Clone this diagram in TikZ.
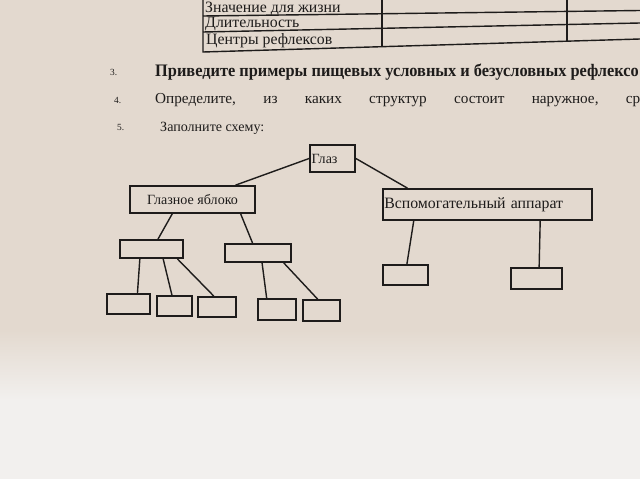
\documentclass[tikz,border=0pt]{standalone}
\usepackage{graphicx}
\usepackage{fontspec}
\setmainfont{Liberation Serif}
\usetikzlibrary{calc}
\definecolor{paper}{HTML}{E3D9CF}
\definecolor{paperlow}{HTML}{F2F0EE}
\definecolor{inkc}{HTML}{1E1C1B}
\tikzset{
  box/.style={draw=inkc, line width=1.5pt, rectangle, inner sep=0pt, text=inkc},
  link/.style={draw=inkc, line width=1.2pt},
  rowtext/.style={anchor=west, inner sep=0pt, text=inkc, font=\fontsize{13.5}{14}\selectfont},
  numtext/.style={anchor=west, inner sep=0pt, text=inkc, font=\fontsize{8}{9}\selectfont},
}

\begin{document}
\begin{tikzpicture}[x=0.03cm, y=-0.03cm]
        \useasboundingbox (0,0) rectangle (640,479);
        \fill[paper] (0,0) rectangle (640,330);
        \shade[top color=paper, bottom color=paperlow] (0,330) rectangle (640,400);
        \fill[paperlow] (0,400) rectangle (640,479);
        \clip (0,0) rectangle (640,479);

        \draw[link] (203,0) -- (203,52) -- (640,39); \draw[link] (203,16) -- (640,10.5); \draw[link] (203,32) -- (640,23);
        \draw[link] (382,0) -- (382,47); \draw[link] (567,0) -- (567,42);
        \node[rowtext] (life) at (205,8.5) {Значение для жизни};
        \node[rowtext] (dur) at (205,24.5) {Длительность};
        \node[rowtext] (cent) at (206,41) {Центры рефлексов};

        \node[numtext] (n3) at (110,72) {3.};
        \node[anchor=west, inner sep=0pt, text=inkc, font=\bfseries\fontsize{15}{16}\selectfont] (q3) at (155,72) {\scalebox{0.93}[1]{Приведите примеры пищевых условных и безусловных рефлексо}};
        \node[numtext] (n4) at (114,100) {4.};
        \node[anchor=west, inner sep=0pt, text=inkc, text width=14.55cm, font=\fontsize{13}{14}\selectfont] (q4) at (155,100) {Определите,\hfill из\hfill каких\hfill структур\hfill состоит\hfill наружное,\hfill ср};
        \node[numtext] (n5) at (117,127) {5.};
        \node[anchor=west, inner sep=0pt, text=inkc, font=\fontsize{12}{13}\selectfont] (q5) at (160,128) {Заполните схему:};

        \node[box, text width=1.25cm, inner xsep=0.05cm, minimum height=0.81cm, align=left, font=\fontsize{12}{13}\selectfont] (eye) at (332.5,158.5) {Глаз};
        \node[box, minimum width=3.75cm, minimum height=0.81cm, font=\fontsize{12}{13}\selectfont] (ball) at (192.5,199.5) {Глазное яблоко};
        \node[box, text width=6.19cm, inner xsep=0.04cm, minimum height=0.93cm, align=left, font=\fontsize{13.5}{14}\selectfont] (aux) at (487.5,204.5) {Вспомогательный аппарат};

        \node[box, minimum width=1.89cm, minimum height=0.54cm] (ba) at (151.5,249) {};
        \node[box, minimum width=1.98cm, minimum height=0.54cm] (bb) at (258,253) {};
        \node[box, minimum width=1.29cm, minimum height=0.6cm] (ba1) at (128.5,304) {};
        \node[box, minimum width=1.05cm, minimum height=0.6cm] (ba2) at (174.5,306) {};
        \node[box, minimum width=1.14cm, minimum height=0.6cm] (ba3) at (217,307) {};
        \node[box, minimum width=1.14cm, minimum height=0.63cm] (bb1) at (277,309.5) {};
        \node[box, minimum width=1.11cm, minimum height=0.63cm] (bb2) at (321.5,310.5) {};
        \node[box, minimum width=1.35cm, minimum height=0.6cm] (aa1) at (405.5,275) {};
        \node[box, minimum width=1.53cm, minimum height=0.63cm] (aa2) at (536.5,278.5) {};

        \draw[link] (eye.west) -- ($(ball.north west)!.84!(ball.north east)$);
        \draw[link] (eye.east) -- ($(aux.north west)!.12!(aux.north east)$);
        \draw[link] ($(ball.south west)!.34!(ball.south east)$) -- ($(ba.north west)!.6!(ba.north east)$);
        \draw[link] ($(ball.south west)!.88!(ball.south east)$) -- ($(bb.north west)!.42!(bb.north east)$);
        \draw[link] ($(ba.south west)!.32!(ba.south east)$) -- ($(ba1.north west)!.7!(ba1.north east)$);
        \draw[link] ($(ba.south west)!.68!(ba.south east)$) -- ($(ba2.north west)!.43!(ba2.north east)$);
        \draw[link] ($(ba.south west)!.9!(ba.south east)$) -- ($(ba3.north west)!.42!(ba3.north east)$);
        \draw[link] ($(bb.south west)!.56!(bb.south east)$) -- ($(bb1.north west)!.24!(bb1.north east)$);
        \draw[link] ($(bb.south west)!.88!(bb.south east)$) -- ($(bb2.north west)!.4!(bb2.north east)$);
        \draw[link] ($(aux.south west)!.15!(aux.south east)$) -- ($(aa1.north west)!.53!(aa1.north east)$);
        \draw[link] ($(aux.south west)!.75!(aux.south east)$) -- ($(aa2.north west)!.55!(aa2.north east)$);
\end{tikzpicture}
\end{document}
